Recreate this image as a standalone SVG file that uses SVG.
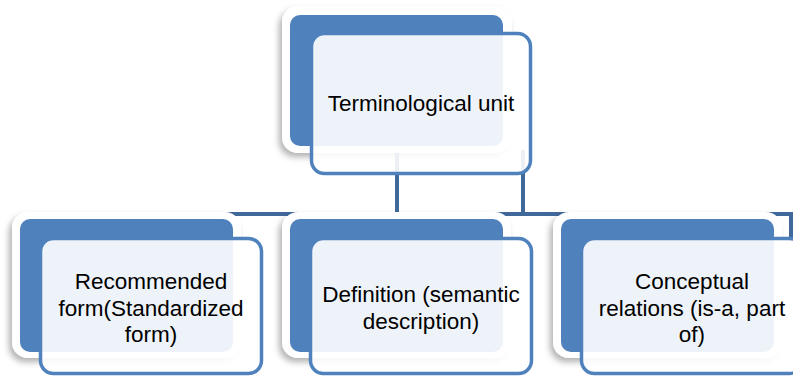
<svg xmlns="http://www.w3.org/2000/svg" width="793" height="377" viewBox="0 0 793 377">
<defs>
<filter id="sh" x="-10%" y="-10%" width="125%" height="130%">
<feDropShadow dx="-3" dy="4" stdDeviation="3" flood-color="#000" flood-opacity="0.3"/>
</filter>
</defs>
<style>
.card{fill:#fff;filter:url(#sh)}
.back{fill:#4f81bd}
.front{fill:#fff;fill-opacity:0.9;stroke:#4f81bd;stroke-width:3.5}
.conn{stroke:#41689b;stroke-width:4;fill:none}
text{font-family:"Liberation Sans",Arial,sans-serif;font-size:22.5px;fill:#000;text-anchor:middle}
</style>
<rect width="793" height="377" fill="#fff"/>
<g id="connectors">
<path class="conn" d="M397,150 V214 M523,150 V214 M150,214 H791 V240"/>
</g>
<g id="node-top">
<rect class="card" x="282" y="6" width="230" height="147" rx="16"/>
<rect class="back" x="290" y="15" width="213" height="131" rx="10"/>
<rect class="front" x="311.5" y="33.5" width="219" height="140" rx="13"/>
<text x="421" y="111">Terminological unit</text>
</g>
<g id="node-recommended">
<rect class="card" x="12" y="212" width="229" height="146" rx="16"/>
<rect class="back" x="20" y="219" width="213" height="133" rx="10"/>
<rect class="front" x="40.5" y="238.5" width="221" height="135" rx="13"/>
<text x="151" y="289">Recommended</text>
<text x="151" y="315.5">form(Standardized</text>
<text x="151" y="342">form)</text>
</g>
<g id="node-definition">
<rect class="card" x="282" y="212" width="229" height="146" rx="16"/>
<rect class="back" x="290" y="219" width="213" height="133" rx="10"/>
<rect class="front" x="310.5" y="238.5" width="221" height="135" rx="13"/>
<text x="421" y="302">Definition (semantic</text>
<text x="421" y="328.5">description)</text>
</g>
<g id="node-conceptual">
<rect class="card" x="553" y="212" width="229" height="146" rx="16"/>
<rect class="back" x="561" y="219" width="213" height="133" rx="10"/>
<rect class="front" x="581.5" y="238.5" width="221" height="135" rx="13"/>
<text x="692" y="289">Conceptual</text>
<text x="692" y="315.5">relations (is-a, part</text>
<text x="692" y="342">of)</text>
</g>
</svg>
